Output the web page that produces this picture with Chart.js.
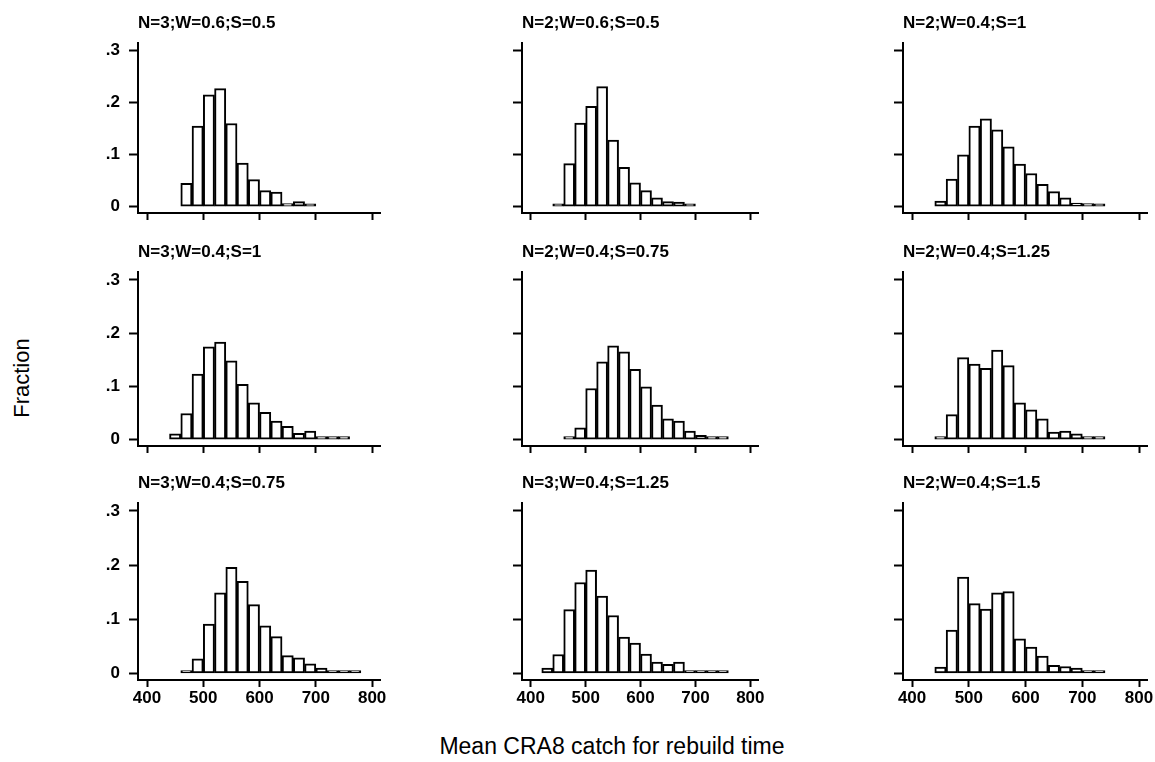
<!DOCTYPE html>
<html>
<head>
<meta charset="utf-8">
<script src="https://cdn.jsdelivr.net/npm/chart.js@4.4.0/dist/chart.umd.min.js"></script>
<style>
body { margin: 0; background: #fff; width: 1155px; height: 762px; position: relative; overflow: hidden; font-family: Arial, "Liberation Sans", sans-serif; }
canvas { position: absolute; }
#ylab { position: absolute; left: 22px; top: 378px; transform: translate(-50%, -50%) rotate(-90deg); font-size: 22px; white-space: nowrap; color: #000; }
#xlab { position: absolute; left: 612px; top: 746px; transform: translate(-50%, -50%); font-size: 23px; white-space: nowrap; color: #000; }
</style>
</head>
<body>
<div id="ylab">Fraction</div>
<div id="xlab">Mean CRA8 catch for rebuild time</div>
<script>
// panel titles, row by row
var titles = ['N=3;W=0.6;S=0.5', 'N=2;W=0.6;S=0.5', 'N=2;W=0.4;S=1',
              'N=3;W=0.4;S=1', 'N=2;W=0.4;S=0.75', 'N=2;W=0.4;S=1.25',
              'N=3;W=0.4;S=0.75', 'N=3;W=0.4;S=1.25', 'N=2;W=0.4;S=1.5'];

// bin midpoints (bins are 20 wide) and fractions for each panel
var bins1 = [470, 490, 510, 530, 550, 570, 590, 610, 630, 650, 670, 690];
var frac1 = [0.045, 0.155, 0.215, 0.227, 0.160, 0.084, 0.052, 0.031, 0.028, 0.006, 0.010, 0.003];

var bins2 = [450, 470, 490, 510, 530, 550, 570, 590, 610, 630, 650, 670, 690];
var frac2 = [0.001, 0.083, 0.161, 0.193, 0.231, 0.128, 0.076, 0.046, 0.031, 0.017, 0.010, 0.009, 0.001];

var bins3 = [450, 470, 490, 510, 530, 550, 570, 590, 610, 630, 650, 670, 690, 710, 730];
var frac3 = [0.011, 0.053, 0.100, 0.155, 0.169, 0.148, 0.115, 0.082, 0.064, 0.043, 0.029, 0.017, 0.007, 0.006, 0.001];

var bins4 = [450, 470, 490, 510, 530, 550, 570, 590, 610, 630, 650, 670, 690, 710, 730, 750];
var frac4 = [0.011, 0.049, 0.123, 0.174, 0.183, 0.148, 0.104, 0.069, 0.051, 0.035, 0.025, 0.012, 0.016, 0.001, 0.001, 0.001];

var bins5 = [470, 490, 510, 530, 550, 570, 590, 610, 630, 650, 670, 690, 710, 730, 750];
var frac5 = [0.002, 0.022, 0.096, 0.146, 0.176, 0.165, 0.132, 0.099, 0.065, 0.039, 0.035, 0.016, 0.008, 0.002, 0.001];

var bins6 = [450, 470, 490, 510, 530, 550, 570, 590, 610, 630, 650, 670, 690, 710, 730];
var frac6 = [0.002, 0.047, 0.154, 0.142, 0.134, 0.168, 0.139, 0.069, 0.056, 0.039, 0.014, 0.016, 0.011, 0.005, 0.001];

var bins7 = [470, 490, 510, 530, 550, 570, 590, 610, 630, 650, 670, 690, 710, 730, 750, 770];
var frac7 = [0.003, 0.027, 0.091, 0.149, 0.196, 0.170, 0.127, 0.088, 0.068, 0.033, 0.029, 0.018, 0.010, 0.004, 0.002, 0.001];

var bins8 = [430, 450, 470, 490, 510, 530, 550, 570, 590, 610, 630, 650, 670, 690, 710, 730, 750];
var frac8 = [0.010, 0.035, 0.118, 0.168, 0.191, 0.143, 0.107, 0.067, 0.056, 0.036, 0.021, 0.017, 0.021, 0.003, 0.002, 0.003, 0.001];

var bins9 = [450, 470, 490, 510, 530, 550, 570, 590, 610, 630, 650, 670, 690, 710, 730];
var frac9 = [0.012, 0.080, 0.178, 0.129, 0.119, 0.149, 0.151, 0.064, 0.049, 0.032, 0.015, 0.013, 0.010, 0.002, 0.001];

var xTicks = [400, 500, 600, 700, 800];
var yTicks = [0, 0.1, 0.2, 0.3];

var allBins = [bins1, bins2, bins3, bins4, bins5, bins6, bins7, bins8, bins9];
var allFrac = [frac1, frac2, frac3, frac4, frac5, frac6, frac7, frac8, frac9];

// page layout of the plot areas
var colLeft = [138, 522, 903];
var colWidth = [242, 236, 244];
var rowTop = [43, 272, 503];
var rowHeight = [170, 174, 177];
var yAxisW = 50, titleH = 40, padRight = 20, padBottom = 2;

Chart.defaults.font.family = 'Arial, "Liberation Sans", sans-serif';
Chart.defaults.color = '#000';

for (var i = 0; i < 9; i++) {
    var c = i % 3, r = Math.floor(i / 3);
    var xAxisH = r === 2 ? 30 : 10;
    var cv = document.createElement('canvas');
    var w = yAxisW + colWidth[c] + padRight;
    var h = titleH + rowHeight[r] + xAxisH + padBottom;
    cv.width = w;
    cv.height = h;
    cv.style.left = (colLeft[c] - yAxisW) + 'px';
    cv.style.top = (rowTop[r] - titleH) + 'px';
    document.body.appendChild(cv);

    var pts = allBins[i].map(function (b, k) { return { x: b, y: allFrac[i][k] }; });

    new Chart(cv.getContext('2d'), {
        type: 'bar',
        data: {
            datasets: [{
                data: pts,
                backgroundColor: '#fff',
                borderColor: '#000',
                borderWidth: 2,
                borderSkipped: false,
                barPercentage: 1,
                categoryPercentage: 1,
                minBarLength: 3
            }]
        },
        options: {
            responsive: false,
            animation: false,
            layout: { padding: { left: 0, top: 0, right: padRight, bottom: padBottom } },
            plugins: {
                legend: { display: false },
                tooltip: { enabled: false },
                title: {
                    display: true,
                    text: titles[i],
                    align: 'start',
                    fullSize: false,
                    color: '#000',
                    font: { size: 17, weight: 'bold' },
                    padding: { top: 10, bottom: 10 }
                }
            },
            scales: {
                x: {
                    type: 'linear',
                    min: 384,
                    max: 814,
                    offset: false,
                    afterBuildTicks: function (s) { s.ticks = xTicks.map(function (v) { return { value: v }; }); },
                    afterFit: (function (hh) { return function (s) { s.height = hh; }; })(xAxisH),
                    ticks: {
                        display: r === 2,
                        font: { size: 17, weight: 'bold' },
                        color: '#000',
                        padding: 1,
                        maxRotation: 0
                    },
                    grid: { offset: false, drawOnChartArea: false, drawTicks: true, tickLength: 7, tickWidth: 2, color: '#000' },
                    border: { display: true, color: '#000', width: 2 }
                },
                y: {
                    type: 'linear',
                    min: -0.012,
                    max: 0.314,
                    afterBuildTicks: function (s) { s.ticks = yTicks.map(function (v) { return { value: v }; }); },
                    afterFit: function (s) { s.width = yAxisW; s.paddingTop = 0; s.paddingBottom = 0; },
                    ticks: {
                        display: c === 0,
                        font: { size: 17, weight: 'bold' },
                        color: '#000',
                        padding: 9,
                        callback: function (v) { return v === 0 ? '0' : v.toFixed(1).slice(1); }
                    },
                    grid: { drawOnChartArea: false, drawTicks: true, tickLength: 9, tickWidth: 2, color: '#000' },
                    border: { display: true, color: '#000', width: 2 }
                }
            }
        }
    });
}
</script>
</body>
</html>
